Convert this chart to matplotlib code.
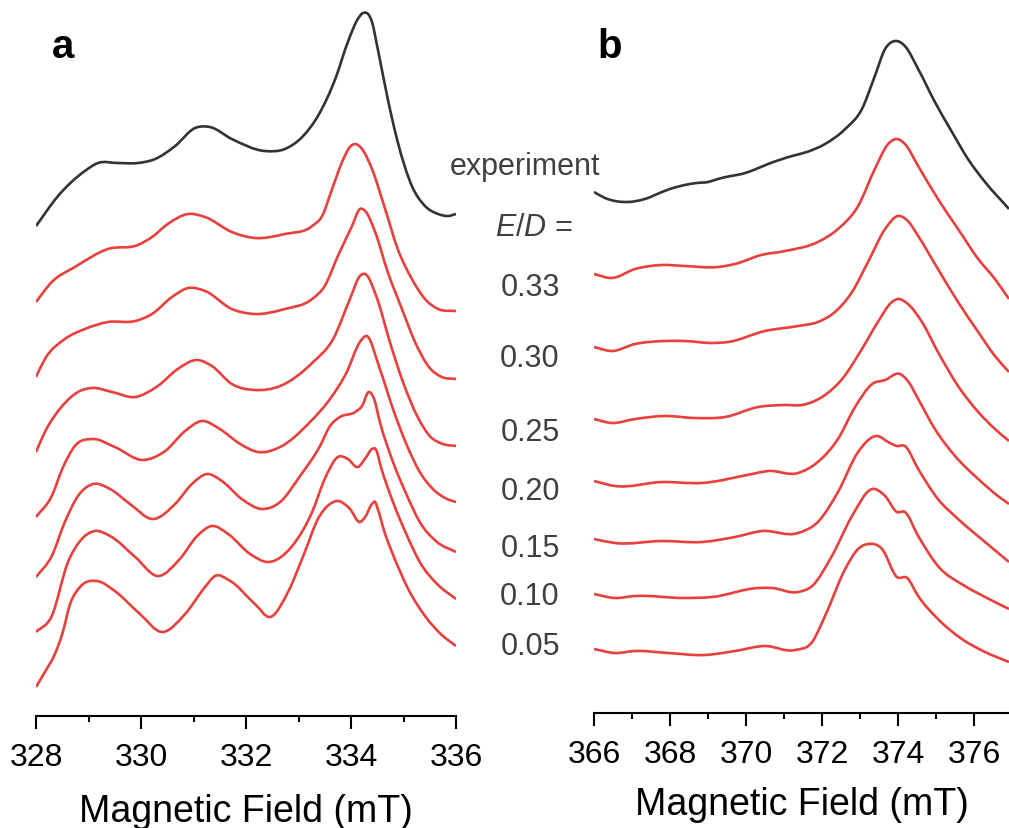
import numpy as np
import matplotlib
matplotlib.use("Agg")
import matplotlib.pyplot as plt
from matplotlib.ticker import MultipleLocator
from matplotlib.path import Path
from matplotlib.patches import PathPatch

plt.rcParams['font.family'] = ['Liberation Sans', 'DejaVu Sans']
plt.rcParams['mathtext.fontset'] = 'custom'
plt.rcParams['mathtext.rm'] = 'Liberation Sans'
plt.rcParams['mathtext.it'] = 'Liberation Sans:italic'

# --- panel a: field (mT) and intensity (arb. units, relative to left end) ---
a_exp_B = [328.0, 328.42, 328.93, 329.18, 329.55, 329.94, 330.27, 330.65, 331.03, 331.31, 331.73,
           332.36, 332.74, 333.07, 333.37, 333.70, 333.94, 334.13, 334.23, 334.40, 334.51, 334.70,
           334.89, 335.16, 335.41, 335.66, 335.85, 336.0]
a_exp_I = [0, 30, 55, 63, 63, 63, 67, 80, 98, 99, 87, 75, 77, 89, 110, 147, 184, 207, 213, 204, 177,
           127, 84, 40, 20, 12, 10, 12]

a_033_B = [328.0, 328.30, 328.74, 329.37, 329.94, 330.21, 330.51, 330.90, 331.22, 331.73, 332.17,
           332.74, 333.26, 333.45, 333.64, 333.83, 333.98, 334.08, 334.21, 334.40, 334.65, 334.89,
           335.16, 335.41, 335.66, 336.0]
a_033_I = [0, 20, 35, 53, 57, 65, 78, 88, 85, 70, 64, 68, 76, 86, 113, 140, 155, 158, 153, 133, 93,
           53, 23, 3, -7, -9]

a_030_B = [328.0, 328.17, 328.55, 328.93, 329.37, 329.89, 330.21, 330.59, 330.90, 331.22, 331.73,
           332.17, 332.74, 333.26, 333.50, 333.75, 334.02, 334.17, 334.27, 334.46, 334.70, 334.97,
           335.22, 335.47, 335.73, 336.0]
a_030_I = [0, 18, 38, 48, 55, 56, 63, 80, 89, 86, 68, 63, 68, 78, 91, 121, 151, 168, 166, 145, 105,
           68, 35, 11, 0, -2]

a_025_B = [328.0, 328.17, 328.50, 328.80, 329.07, 329.45, 329.89, 330.32, 330.70, 331.07, 331.35,
           331.73, 332.17, 332.65, 333.28, 333.66, 333.98, 334.17, 334.27, 334.50, 334.74, 334.99,
           335.26, 335.50, 335.75, 336.0]
a_025_I = [0, 20, 46, 60, 64, 60, 55, 66, 83, 92, 86, 68, 62, 66, 90, 113, 153, 176, 178, 153, 110,
           70, 36, 16, 8, 6]

a_020_B = [328.0, 328.30, 328.50, 328.74, 329.07, 329.50, 330.04, 330.46, 330.84, 331.16, 331.50,
           331.89, 332.23, 332.65, 333.22, 333.60, 333.92, 334.17, 334.30, 334.55, 334.80, 335.07,
           335.31, 335.56, 335.83, 336.0]
a_020_I = [0, 21, 48, 71, 78, 70, 57, 66, 86, 96, 88, 73, 65, 70, 95, 118, 145, 175, 181, 148, 108,
           71, 45, 28, 18, 15]

a_015_B = [328.0, 328.30, 328.55, 328.80, 329.09, 329.41, 329.79, 330.23, 330.65, 330.97, 331.26,
           331.54, 331.92, 332.30, 332.65, 333.03, 333.41, 333.60, 333.79, 334.08, 334.21, 334.34,
           334.44, 334.55, 334.80, 335.07, 335.31, 335.64, 336.0]
a_015_I = [0, 21, 55, 81, 93, 88, 73, 58, 73, 93, 103, 96, 78, 68, 75, 101, 131, 151, 160, 165, 171,
           185, 178, 155, 115, 81, 55, 35, 25]

a_010_B = [328.0, 328.30, 328.61, 328.84, 329.12, 329.41, 329.89, 330.32, 330.74, 331.07, 331.35,
           331.66, 332.08, 332.42, 332.88, 333.26, 333.50, 333.75, 333.94, 334.13, 334.29, 334.40,
           334.48, 334.57, 334.80, 335.07, 335.31, 335.64, 336.0]
a_010_I = [0, 16, 70, 91, 101, 96, 75, 56, 73, 96, 106, 98, 78, 70, 86, 120, 153, 175, 173, 165, 175,
           183, 182, 165, 130, 96, 70, 48, 33]

a_005_B = [328.0, 328.17, 328.36, 328.50, 328.65, 328.84, 329.16, 329.50, 329.98, 330.40, 330.84,
           331.22, 331.41, 331.70, 332.17, 332.46, 332.80, 333.12, 333.37, 333.60, 333.75, 333.98,
           334.17, 334.27, 334.40, 334.46, 334.51, 334.65, 334.78, 335.09, 335.41, 335.73, 336.0]
a_005_I = [0, 15, 33, 53, 83, 100, 106, 96, 73, 55, 73, 100, 111, 106, 83, 70, 95, 135, 168, 183,
           186, 178, 165, 170, 183, 185, 178, 153, 135, 98, 71, 52, 41]

# --- panel b ---
b_exp_B = [366.0, 366.29, 366.89, 367.34, 367.79, 368.0, 368.39, 368.7, 369.0, 369.26, 369.6, 369.89,
           370.2, 370.58, 371.21, 371.6, 372.08, 372.61, 373.05, 373.39, 373.66, 373.92, 374.18,
           374.53, 374.97, 375.42, 375.84, 376.29, 376.92]
b_exp_I = [0, -6, -10, -7, 0, 3, 7, 9, 10, 13, 16, 18, 22, 28, 36, 40, 48, 63, 83, 116, 143, 151, 146,
           123, 90, 60, 33, 10, -17]

b_033_B = [366.0, 366.47, 367.08, 367.79, 368.39, 369.26, 369.71, 370.40, 371.03, 371.89, 372.42,
           372.95, 373.39, 373.74, 373.97, 374.18, 374.53, 375.05, 375.58, 376.11, 376.55, 376.92]
b_033_I = [0, -4, 5, 9, 8, 7, 10, 19, 23, 32, 45, 68, 105, 130, 135, 130, 108, 75, 45, 15, -5, -25]

b_030_B = [366.0, 366.47, 367.08, 367.87, 368.39, 369.11, 369.53, 370.50, 371.37, 371.89, 372.34,
           372.79, 373.21, 373.66, 374.0, 374.26, 374.53, 375.05, 375.58, 376.11, 376.55, 376.92]
b_030_I = [0, -4, 3, 6, 6, 4, 5, 16, 21, 25, 35, 55, 85, 118, 131, 126, 111, 78, 45, 15, -9, -25]

b_025_B = [366.0, 366.47, 367.08, 367.87, 368.66, 369.45, 370.32, 371.03, 371.47, 372.0, 372.53,
           373.05, 373.47, 373.84, 374.0, 374.26, 374.63, 375.05, 375.58, 376.11, 376.55, 376.92]
b_025_I = [0, -4, 0, 3, 1, 2, 12, 14, 14, 22, 40, 70, 97, 117, 120, 115, 97, 67, 33, 7, -10, -22]

b_020_B = [366.0, 366.55, 367.79, 368.84, 370.16, 370.58, 371.37, 371.89, 372.42, 372.87, 373.32,
           373.66, 374.05, 374.26, 374.53, 374.97, 375.50, 376.11, 376.63, 376.92]
b_020_I = [0, -5, -1, -2, 7, 10, 8, 19, 42, 74, 97, 101, 107, 100, 82, 52, 25, 2, -15, -23]

b_015_B = [366.0, 366.55, 367.79, 368.84, 369.71, 370.42, 371.37, 371.89, 372.42, 372.95, 373.45,
           373.74, 373.97, 374.18, 374.53, 375.05, 375.58, 376.29, 376.92]
b_015_I = [0, -4, -2, -3, 2, 8, 6, 17, 47, 87, 103, 97, 93, 93, 70, 40, 20, -3, -23]

b_010_B = [366.0, 366.55, 367.08, 368.39, 369.11, 370.32, 370.68, 371.37, 371.74, 372.26, 372.79,
           373.32, 373.66, 373.97, 374.18, 374.53, 375.05, 375.76, 376.29, 376.92]
b_010_I = [0, -4, -2, -4, -3, 6, 6, 2, 8, 38, 78, 105, 98, 82, 82, 58, 28, 8, -3, -15]

b_005_B = [366.0, 366.55, 367.08, 367.95, 368.92, 369.71, 370.50, 371.29, 371.74, 372.08, 372.61,
           372.95, 373.21, 373.58, 373.97, 374.24, 374.53, 375.05, 375.68, 376.29, 376.92]
b_005_I = [0, -4, -2, -4, -6, -2, 3, -1, 7, 33, 80, 100, 105, 100, 72, 71, 53, 30, 10, -3, -13]

ed_labels = ['0.33', '0.30', '0.25', '0.20', '0.15', '0.10', '0.05']
offsets_a = [490, 414, 339, 264, 199, 139, 84, 29]   # experiment, then E/D from 0.33 down
offsets_b = [521, 439, 366, 294, 232, 174, 119, 64]

traces_a = [(a_exp_B, a_exp_I), (a_033_B, a_033_I), (a_030_B, a_030_I), (a_025_B, a_025_I),
            (a_020_B, a_020_I), (a_015_B, a_015_I), (a_010_B, a_010_I), (a_005_B, a_005_I)]
traces_b = [(b_exp_B, b_exp_I), (b_033_B, b_033_I), (b_030_B, b_030_I), (b_025_B, b_025_I),
            (b_020_B, b_020_I), (b_015_B, b_015_I), (b_010_B, b_010_I), (b_005_B, b_005_I)]

exp_color = '#333333'
sim_color = '#e8403c'

W, H = 1009, 829
fig = plt.figure(figsize=(W / 100, H / 100), dpi=100)
ax_a = fig.add_axes([36 / W, 1 - 717 / H, 420 / W, 717 / H])
ax_b = fig.add_axes([594 / W, 1 - 714 / H, 415 / W, 714 / H])


def smooth_path(x, y):
    # cubic Hermite segments through the read points, drawn as Bezier curves
    x = np.asarray(x, float)
    y = np.asarray(y, float)
    m = np.gradient(y, x)
    verts = [(x[0], y[0])]
    codes = [Path.MOVETO]
    for i in range(len(x) - 1):
        h = x[i + 1] - x[i]
        verts += [(x[i] + h / 3, y[i] + m[i] * h / 3),
                  (x[i + 1] - h / 3, y[i + 1] - m[i + 1] * h / 3),
                  (x[i + 1], y[i + 1])]
        codes += [Path.CURVE4] * 3
    return Path(verts, codes)


def draw_panel(ax, traces, offsets, xlim, ylim, labelpad):
    for k, (B, I) in enumerate(traces):
        y = np.array(I) + offsets[k]
        patch = PathPatch(smooth_path(B, y), facecolor='none',
                          edgecolor=exp_color if k == 0 else sim_color, lw=1.9)
        ax.add_patch(patch)
    ax.set_xlim(*xlim)
    ax.set_ylim(*ylim)
    for s in ['top', 'left', 'right']:
        ax.spines[s].set_visible(False)
    ax.spines['bottom'].set_linewidth(1.5)
    ax.set_yticks([])
    ax.xaxis.set_major_locator(MultipleLocator(2))
    ax.xaxis.set_minor_locator(MultipleLocator(1))
    ax.tick_params(axis='x', which='major', direction='out', length=9, width=1.5, labelsize=23, pad=10)
    ax.tick_params(axis='x', which='minor', direction='out', length=4.5, width=1.5)
    ax.set_xlabel('Magnetic Field (mT)', fontsize=27, labelpad=labelpad)
    ax.patch.set_alpha(0)


draw_panel(ax_a, traces_a, offsets_a, (328, 336), (0, 717), 15)
draw_panel(ax_b, traces_b, offsets_b, (366, 376.92), (0, 714), 12)

fig.text(52 / W, 1 - 58 / H, 'a', fontsize=29, fontweight='bold', va='baseline', ha='left')
fig.text(597 / W, 1 - 58 / H, 'b', fontsize=29, fontweight='bold', va='baseline', ha='left')

txt_color = '#404040'
fig.text(525 / W, 1 - 167 / H, 'experiment', fontsize=22, color=txt_color, ha='center', va='center')
fig.text(534 / W, 1 - 228 / H, r'$E/D$ =', fontsize=22, color=txt_color, ha='center', va='center')
label_y = [288, 359, 433, 492, 549, 597, 647]
for lab, py in zip(ed_labels, label_y):
    fig.text(530 / W, 1 - py / H, lab, fontsize=22, color=txt_color, ha='center', va='center')

fig.savefig('out.png', dpi=100)
